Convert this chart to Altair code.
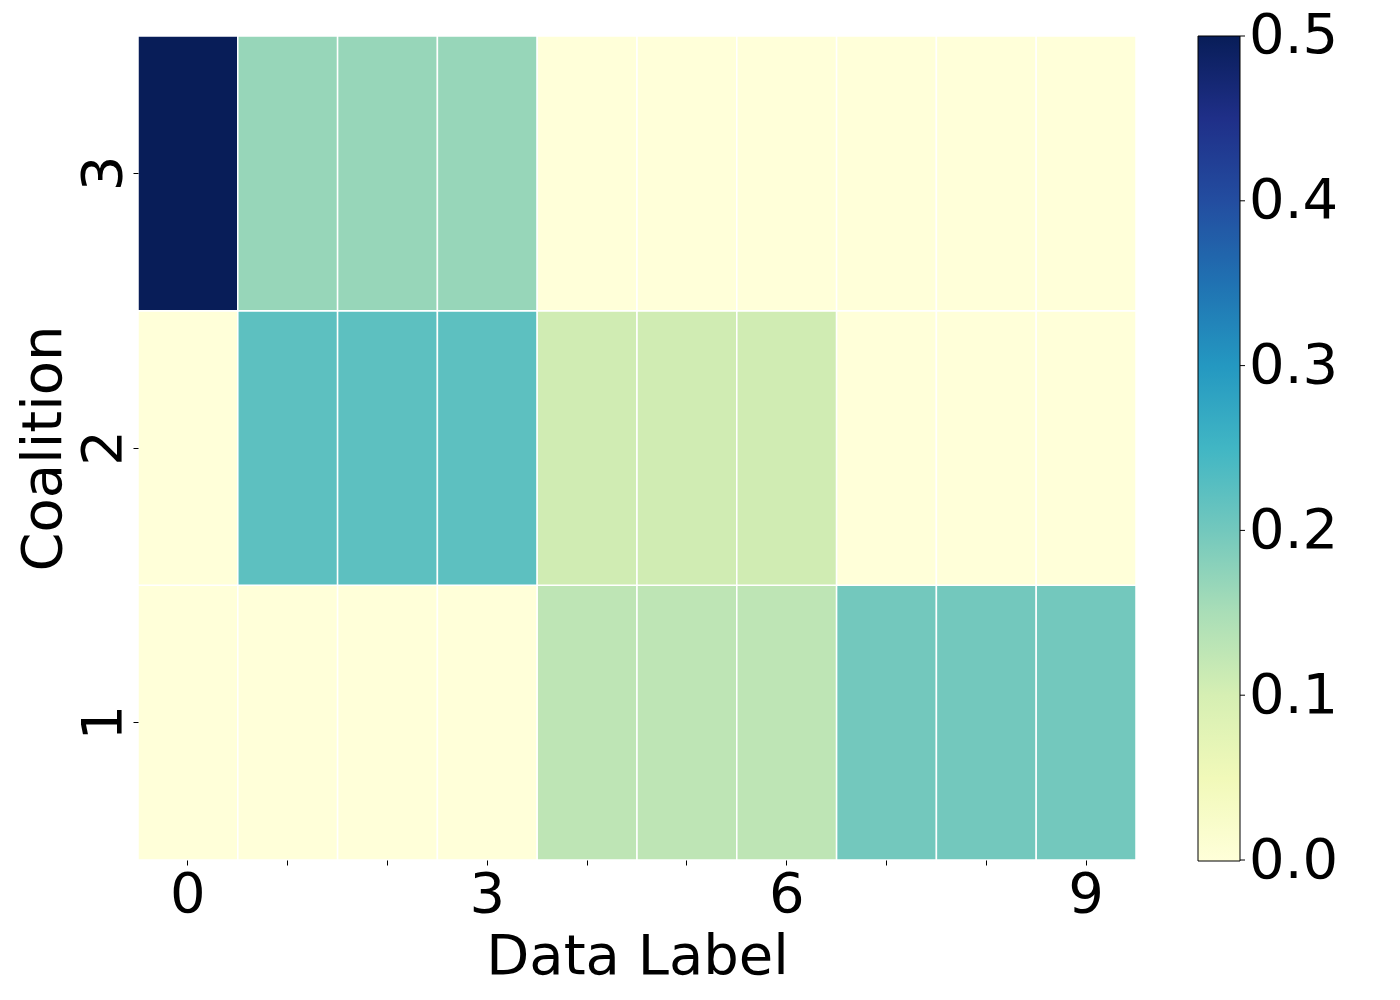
import altair as alt
import pandas as pd

labels = [str(i) for i in range(10)]
coalitions = ["1", "2", "3"]
coalition_1 = [0.0, 0.0, 0.0, 0.0, 0.133, 0.133, 0.133, 0.2, 0.2, 0.2]
coalition_2 = [0.0, 0.222, 0.222, 0.222, 0.111, 0.111, 0.111, 0.0, 0.0, 0.0]
coalition_3 = [0.5, 0.167, 0.167, 0.167, 0.0, 0.0, 0.0, 0.0, 0.0, 0.0]
colorbar_ticks = [0.0, 0.1, 0.2, 0.3, 0.4, 0.5]

ylgnbu = ["#ffffd9", "#edf8b1", "#c7e9b4", "#7fcdbb", "#41b6c4",
          "#1d91c0", "#225ea8", "#253494", "#081d58"]
stops = [-0.000001, 0.0625, 0.125, 0.1875, 0.25, 0.3125, 0.375, 0.4375, 0.500001]

rows = []
for c, vals in zip(coalitions, [coalition_1, coalition_2, coalition_3]):
    for lab, v in zip(labels, vals):
        rows.append({"label": lab, "coalition": c, "value": v})
df = pd.DataFrame(rows)
ticks_df = pd.DataFrame({"v": colorbar_ticks})

FONT = "DejaVu Sans"
FS = 56

heat = alt.Chart(df).mark_rect(stroke="white", strokeWidth=1.5).encode(
    x=alt.X("label:O", sort=labels, title="Data Label",
            axis=alt.Axis(labelAngle=0, labelFontSize=FS, titleFontSize=FS,
                          labelFont=FONT, titleFont=FONT, titleFontWeight="normal",
                          labelColor="black", titleColor="black",
                          domain=False, tickSize=5, tickColor="black", tickWidth=1,
                          labelPadding=2, titlePadding=7,
                          labelExpr="toNumber(datum.value) % 3 == 0 ? datum.label : ''")),
    y=alt.Y("coalition:O", sort=["3", "2", "1"], title="Coalition",
            axis=alt.Axis(labelAngle=-90, labelAlign="center", labelBaseline="alphabetic",
                          labelFontSize=FS, titleFontSize=FS,
                          labelFont=FONT, titleFont=FONT, titleFontWeight="normal",
                          labelColor="black", titleColor="black",
                          domain=False, tickSize=5, tickColor="black", tickWidth=1,
                          labelPadding=13, titlePadding=3)),
    color=alt.Color("value:Q",
                    scale=alt.Scale(domain=stops, range=ylgnbu, interpolate="rgb"),
                    legend=alt.Legend(orient="none", legendX=1060, legendY=0,
                                      direction="vertical", title=None,
                                      gradientLength=825, gradientThickness=42,
                                      gradientStrokeColor="black", gradientStrokeWidth=1,
                                      values=colorbar_ticks, format=".1f",
                                      labelFontSize=FS, labelFont=FONT, labelColor="black",
                                      labelOffset=9, padding=0)),
)

cbar_ticks = alt.Chart(ticks_df).mark_rule(color="black", strokeWidth=1, clip=False).encode(
    x=alt.value(1102), x2=alt.value(1107),
    y=alt.Y("v:Q", scale=alt.Scale(domain=[0, 0.5], nice=False, zero=False), axis=None),
)

chart = alt.layer(heat, cbar_ticks).resolve_scale(y="independent").properties(
    width=998, height=824,
    autosize=alt.AutoSizeParams(type="none"),
    padding={"left": 130, "top": 28, "right": 250, "bottom": 140},
).configure_view(stroke=None)

chart.save("out.html", embed_options={"renderer": "svg", "actions": False})
